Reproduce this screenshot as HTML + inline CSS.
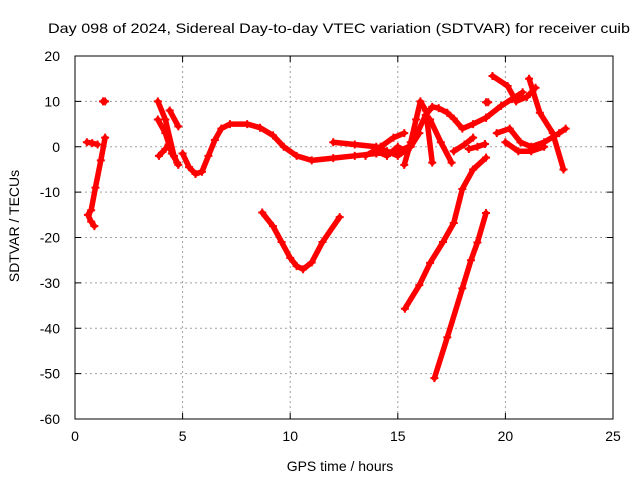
<!DOCTYPE html>
<html><head><meta charset="utf-8"><style>
body{margin:0;background:#fff}
svg text{font-family:"Liberation Sans",sans-serif;font-size:14px;fill:#000}
</style></head><body>
<svg id="c" width="640" height="480"></svg>
<script>
const xTicks=[0,5,10,15,20,25];
const yTicks=[20,10,0,-10,-20,-30,-40,-50,-60];
const trackNames=["t1","t1b","t1p","t2a","t2b","t2c","t2d","wave","wave2","vdip","peakA","peakB","peakBdown","mid1","mid2","right1","right2","right3","right4","right5","trackC","trackD","bit1","bit2","pt2"];
const trackHours=[
[1.4,1.2,0.95,0.75,0.6,0.75,0.9],
[0.55,0.8,1.05],
[1.3,1.4],
[3.85,4.2,4.6,4.8],
[3.85,4.2,4.5,4.75],
[3.9,4.2,4.35],
[4.4,4.8],
[5.0,5.3,5.6,5.9,6.2,6.5,6.8,7.2,8.0,8.6,9.2,9.7,10.3,11,12,13,14,15,15.5],
[12,13,14,14.5,15,15.6,16.0],
[8.7,9.2,9.6,10.0,10.3,10.6,11,11.5,12.3],
[15.3,15.6,15.85,16.05,16.3,16.6],
[15.9,16.3,16.6,16.9,17.3,17.6,18.0,18.5,19.1],
[16.5,17.0,17.5],
[13.5,14.2,14.8,15.3],
[14,14.5,15,15.4],
[19.4,20.1,20.5,21.0,21.4],
[21.1,21.6,22.2,22.7],
[19.1,19.8,20.3,20.8],
[19.6,20.2,20.7,21.2,21.8,22.5,22.8],
[20.0,20.6,21.2,21.8],
[15.33,16.0,16.5,17.1,17.6,18.0,18.5,19.1],
[16.7,17.3,18.0,18.4,18.7,19.1],
[18.3,18.7,19.05],
[17.6,18.1,18.5],
[19.1,19.2]
];
const trackValues=[
[2,-3,-9,-14,-15,-16.5,-17.5],
[1,0.8,0.5],
[10,10],
[10,6,-2,-4],
[6,3,-1.5,-3.5],
[-2,-0.5,0.5],
[8,4.5],
[-1.5,-4.5,-6,-5.5,-2,1.5,4,5,5,4.2,2.5,0,-2,-3,-2.5,-2,-1.5,-1,0],
[1,0.5,0,-1,-2,0,3],
[-14.5,-17.5,-21,-24.5,-26.3,-27,-25.5,-21,-15.5],
[-4,1,6,10,8,-3.5],
[3,7,8.8,8.5,7.5,6.2,4,5,6.4],
[6,1,-3.5],
[-2,0,2,3],
[-1,-2,0,-1],
[15.6,13.4,10,11,13],
[15,7.5,3,-5],
[6.4,9,10.5,12],
[3,4,1,0,1,3,4],
[1,-1,-1,0],
[-35.7,-30.5,-25.6,-21,-16.8,-9.3,-5,-2.4],
[-51,-42,-31.2,-25,-21.1,-14.6],
[-0.5,0,0.6],
[-1,0.5,2],
[9.8,9.8]
];
const L=75,R=613,T=56,B=419;
const xs=h=>L+(h-0)/25*(R-L);
const ys=v=>T+(20-v)/80*(B-T);
const svg=document.getElementById('c');
const NS='http://www.w3.org/2000/svg';
function mk(t,a){const e=document.createElementNS(NS,t);for(const k in a)e.setAttribute(k,a[k]);svg.appendChild(e);return e;}
xTicks.forEach(t=>{
 if(t>0&&t<25){const g=mk('line',{x1:xs(t),x2:xs(t),y1:T,y2:B,stroke:'#a0a0a0','stroke-dasharray':'2,3'});
 
 }
 const tk=mk('line',{x1:xs(t),x2:xs(t),y1:B,y2:B-6,stroke:'#000'});
 
 
 const tk2=mk('line',{x1:xs(t),x2:xs(t),y1:T,y2:T+6,stroke:'#000'});
 
 
 const lb=mk('text',{x:xs(t),y:B+22,'text-anchor':'middle'});lb.textContent=t;
 
 
});
yTicks.forEach(t=>{
 if(t<20&&t>-60){const g=mk('line',{x1:L,x2:R,y1:ys(t),y2:ys(t),stroke:'#a0a0a0','stroke-dasharray':'2,3'});
 
 }
 const tk=mk('line',{x1:L,x2:L+6,y1:ys(t),y2:ys(t),stroke:'#000'});
 
 
 const tk2=mk('line',{x1:R,x2:R-6,y1:ys(t),y2:ys(t),stroke:'#000'});
 
 
 const lb=mk('text',{x:L-15,y:ys(t)+5,'text-anchor':'end'});lb.textContent=t;
 
 
});
const box=mk('rect',{x:L,y:T,width:R-L,height:B-T,fill:'none',stroke:'#000'});


trackHours.forEach((hs,i)=>{
 const pts=hs.map((h,j)=>xs(h)+','+ys(trackValues[i][j])).join(' ');
 const p=mk('polyline',{points:pts,fill:'none',stroke:'#ff0000','stroke-width':5.5,'stroke-linejoin':'round','stroke-linecap':'round'});
 
 
 hs.forEach((h,j)=>{
  const x=xs(h),y=ys(trackValues[i][j]);
  const m=mk('path',{d:`M${x-4},${y}H${x+4}M${x},${y-4}V${y+4}`,stroke:'#ff0000','stroke-width':2});
  
  
 });
});
const ti=mk('text',{x:339,y:33,'text-anchor':'middle','font-size':'16','textLength':'582','lengthAdjust':'spacingAndGlyphs'});ti.textContent='Day 098 of 2024, Sidereal Day-to-day VTEC variation (SDTVAR) for receiver cuib';


const xt=mk('text',{x:340,y:471,'text-anchor':'middle','font-size':'16'});xt.textContent='GPS time / hours';


const yt=mk('text',{x:19,y:226,'text-anchor':'middle','font-size':'16',transform:'rotate(-90 19 226)'});yt.textContent='SDTVAR / TECUs';


</script>
</body></html>
